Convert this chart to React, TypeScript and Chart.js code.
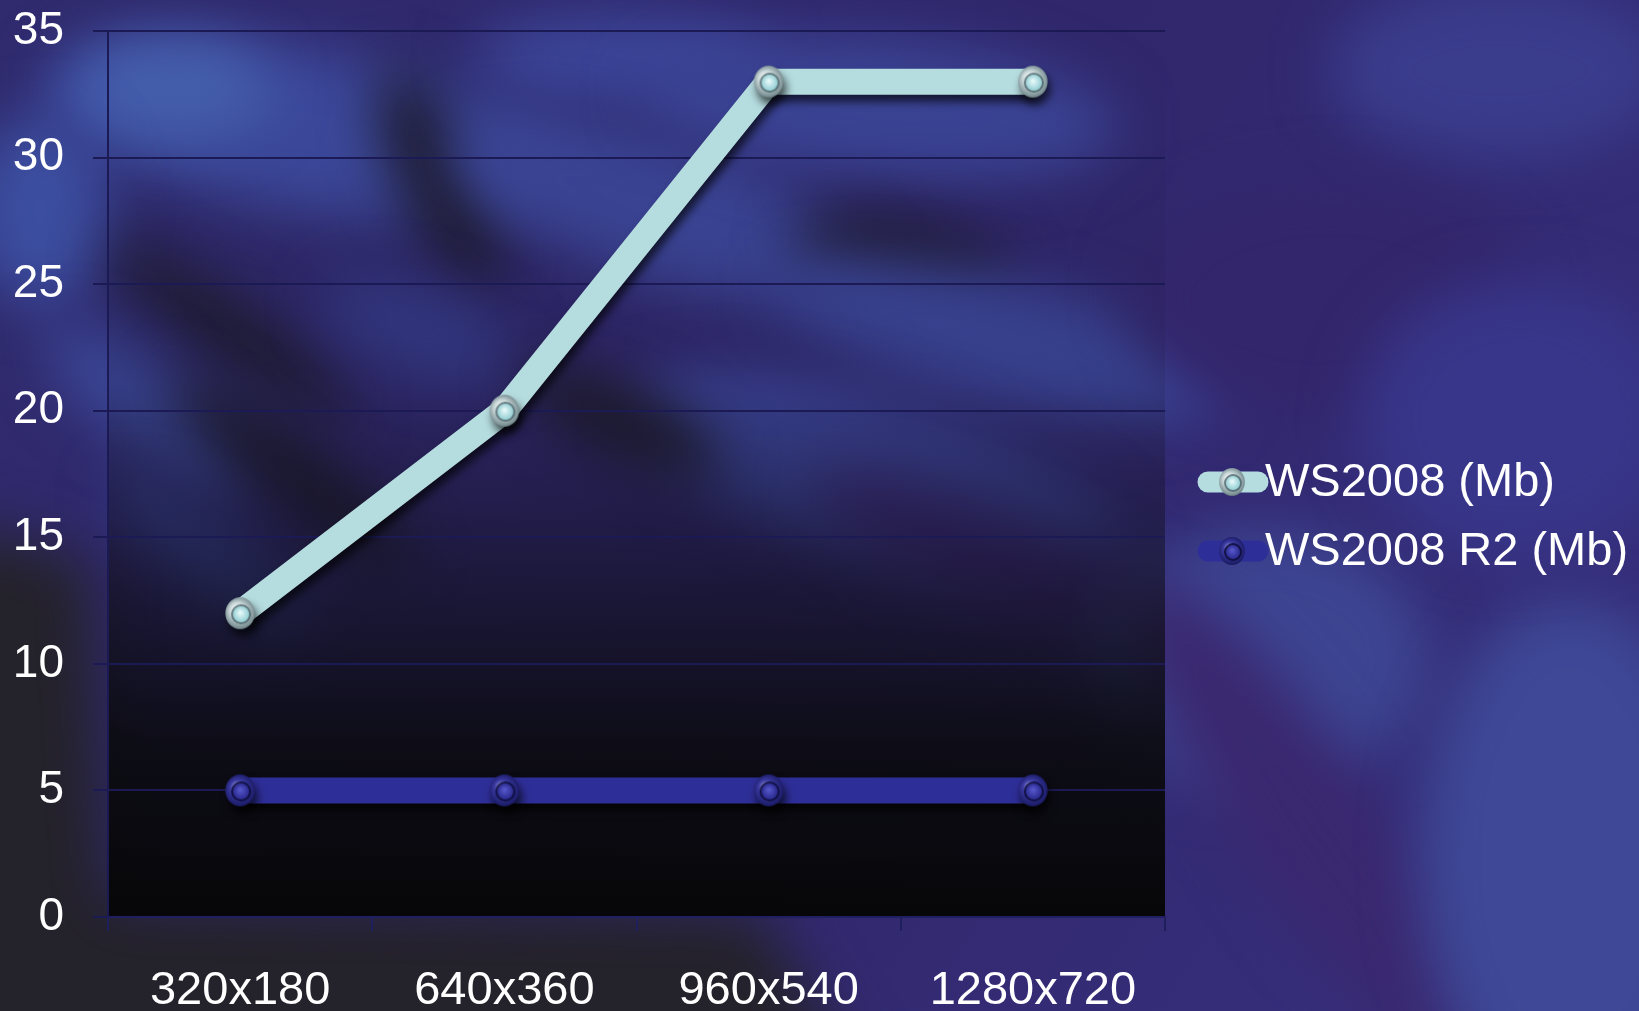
import React, { useEffect, useRef } from "react";
import { Chart, registerables } from "chart.js";

Chart.register(...registerables);

const categories = ["320x180", "640x360", "960x540", "1280x720"];
const ws2008Values = [12, 20, 33, 33];
const ws2008R2Values = [5, 5, 5, 5];
const seriesNames = ["WS2008 (Mb)", "WS2008 R2 (Mb)"];
const seriesColors = ["#b5dcdf", "#2e2e98"];
const yMin = 0;
const yMax = 35;
const yStep = 5;

const W = 1639;
const H = 1011;
const FONT = "'Liberation Sans', Arial, sans-serif";

// decorative background blobs: [cx, cy, rx, ry, angleDeg, color]
const bgBlobs: [number, number, number, number, number, string][] = [
  [300, 130, 260, 80, 10, "#3d4a9e"],
  [170, 90, 100, 50, 0, "#4560ae"],
  [40, 210, 70, 95, 0, "#3c4ea0"],
  [440, 180, 40, 120, -25, "#1e1b30"],
  [620, 60, 150, 45, 0, "#3c469a"],
  [660, 210, 220, 70, 18, "#3c4698"],
  [880, 110, 240, 70, 5, "#3b4496"],
  [900, 255, 110, 38, 10, "#201c34"],
  [1000, 340, 230, 60, 14, "#3b4698"],
  [230, 330, 150, 28, 35, "#1d1b2c"],
  [150, 410, 130, 40, 38, "#3b4898"],
  [290, 470, 150, 30, 38, "#1d1b2c"],
  [210, 560, 120, 32, 40, "#384496"],
  [420, 330, 100, 40, 20, "#343a88"],
  [880, 480, 260, 80, 18, "#3b4498"],
  [620, 420, 110, 35, 25, "#1e1b2c"],
  [1050, 590, 260, 55, 25, "#3a2a78"],
  [1500, 70, 170, 90, 0, "#3a3c8c"],
  [1330, 300, 200, 120, 0, "#33266c"],
  [1260, 660, 170, 130, 0, "#3d4592"],
  [1320, 840, 320, 70, 55, "#3a2870"],
  [1570, 860, 150, 260, 0, "#3e4896"],
  [1520, 420, 160, 140, 0, "#38368a"],
];

function makeMarker(kind: "light" | "dark", r: number): HTMLCanvasElement {
  const c = document.createElement("canvas");
  const s = Math.ceil(r * 2 + 4);
  c.width = s;
  c.height = s;
  const g = c.getContext("2d")!;
  const cx = s / 2;
  const cy = s / 2;
  const outer = g.createRadialGradient(cx - r * 0.3, cy - r * 0.35, 0, cx, cy, r * 1.1);
  if (kind === "light") {
    outer.addColorStop(0, "#f6fafa");
    outer.addColorStop(0.45, "#c6d4d6");
    outer.addColorStop(0.85, "#7f9498");
    outer.addColorStop(1, "#4e5d61");
  } else {
    outer.addColorStop(0, "#8a8ad0");
    outer.addColorStop(0.4, "#3a3aa2");
    outer.addColorStop(0.85, "#1f1f6e");
    outer.addColorStop(1, "#111146");
  }
  g.beginPath();
  g.ellipse(cx, cy, r * 0.92, r, 0, 0, Math.PI * 2);
  g.fillStyle = outer;
  g.fill();
  g.beginPath();
  g.arc(cx + 1, cy + 1, r * 0.55, 0, Math.PI * 2);
  g.lineWidth = 2.5;
  g.strokeStyle = kind === "light" ? "rgba(70,95,100,0.75)" : "rgba(12,12,55,0.85)";
  g.stroke();
  const inner = g.createRadialGradient(cx, cy - 1, 0, cx + 1, cy + 1, r * 0.55);
  if (kind === "light") {
    inner.addColorStop(0, "#eefcfd");
    inner.addColorStop(1, "#8ccbd0");
  } else {
    inner.addColorStop(0, "#5a5ad0");
    inner.addColorStop(1, "#26268a");
  }
  g.beginPath();
  g.arc(cx + 1, cy + 1, r * 0.5, 0, Math.PI * 2);
  g.fillStyle = inner;
  g.fill();
  return c;
}

export default function App() {
  const ref = useRef<HTMLCanvasElement | null>(null);

  useEffect(() => {
    document.body.style.margin = "0";
    const canvas = ref.current!;
    const markers = [makeMarker("light", 16), makeMarker("dark", 16)];
    const legendMarkers = [makeMarker("light", 14), makeMarker("dark", 14)];

    const backdrop = {
      id: "backdrop",
      beforeDraw(chart: any) {
        const { ctx, chartArea: a } = chart;
        ctx.save();
        const base = ctx.createLinearGradient(0, 0, W, H);
        base.addColorStop(0, "#302b6e");
        base.addColorStop(0.5, "#30276c");
        base.addColorStop(1, "#38307e");
        ctx.fillStyle = base;
        ctx.fillRect(0, 0, W, H);
        ctx.filter = "blur(28px)";
        for (const [cx, cy, rx, ry, ang, col] of bgBlobs) {
          ctx.beginPath();
          ctx.ellipse(cx, cy, rx, ry, (ang * Math.PI) / 180, 0, Math.PI * 2);
          ctx.fillStyle = col;
          ctx.fill();
        }
        ctx.filter = "blur(30px)";
        ctx.fillStyle = "#24222a";
        ctx.beginPath();
        ctx.moveTo(-60, 520);
        ctx.lineTo(90, 560);
        ctx.lineTo(110, 900);
        ctx.lineTo(760, 910);
        ctx.lineTo(860, 1080);
        ctx.lineTo(-60, 1080);
        ctx.closePath();
        ctx.fill();
        ctx.filter = "none";
        const gr = ctx.createLinearGradient(0, a.top, 0, a.bottom);
        gr.addColorStop(0, "rgba(14,12,22,0.0)");
        gr.addColorStop(0.4, "rgba(14,12,22,0.1)");
        gr.addColorStop(0.62, "rgba(12,11,18,0.55)");
        gr.addColorStop(0.8, "rgba(10,10,14,0.9)");
        gr.addColorStop(1, "rgba(7,7,9,1)");
        ctx.fillStyle = gr;
        ctx.fillRect(a.left, a.top, a.right - a.left, a.bottom - a.top);
        ctx.restore();
      },
    };

    const shadow = {
      id: "lineShadow",
      beforeDatasetDraw(chart: any) {
        const ctx = chart.ctx;
        ctx.save();
        ctx.shadowColor = "rgba(0,0,0,0.65)";
        ctx.shadowBlur = 8;
        ctx.shadowOffsetX = 3;
        ctx.shadowOffsetY = 7;
      },
      afterDatasetDraw(chart: any) {
        chart.ctx.restore();
      },
    };

    const legend = {
      id: "customLegend",
      afterDraw(chart: any) {
        const { ctx, chartArea: a } = chart;
        ctx.save();
        const x0 = a.right + 43;
        const y0 = (a.top + a.bottom) / 2 + 8;
        chart.data.datasets.forEach((ds: any, i: number) => {
          const y = y0 + i * 69;
          ctx.beginPath();
          ctx.moveTo(x0, y);
          ctx.lineTo(x0 + 50, y);
          ctx.lineWidth = 21;
          ctx.lineCap = "round";
          ctx.strokeStyle = ds.borderColor;
          ctx.stroke();
          const m = legendMarkers[i];
          ctx.drawImage(m, x0 + 24 - m.width / 2, y - m.height / 2);
          ctx.fillStyle = "#ffffff";
          ctx.font = `47px ${FONT}`;
          ctx.textBaseline = "middle";
          ctx.textAlign = "left";
          ctx.fillText(ds.label, a.right + 100, y + 1);
        });
        ctx.restore();
      },
    };

    const chart = new Chart(canvas, {
      type: "line",
      data: {
        labels: categories,
        datasets: [
          {
            label: seriesNames[0],
            data: ws2008Values,
            borderColor: seriesColors[0],
            backgroundColor: seriesColors[0],
            borderWidth: 26,
            pointStyle: markers[0] as any,
            pointRadius: 16,
            tension: 0,
            borderJoinStyle: "round",
          },
          {
            label: seriesNames[1],
            data: ws2008R2Values,
            borderColor: seriesColors[1],
            backgroundColor: seriesColors[1],
            borderWidth: 26,
            pointStyle: markers[1] as any,
            pointRadius: 16,
            tension: 0,
          },
        ],
      },
      options: {
        animation: false,
        responsive: false,
        devicePixelRatio: 1,
        layout: { autoPadding: false, padding: { top: 31, left: 0, right: W - 1165, bottom: 0 } },
        plugins: {
          legend: { display: false },
          tooltip: { enabled: false },
        },
        scales: {
          x: {
            offset: true,
            grid: {
              display: true,
              offset: true,
              drawOnChartArea: false,
              drawTicks: true,
              tickLength: 14,
              color: "#1f1f5e",
              lineWidth: 2,
            },
            border: { display: true, color: "#1f1f62", width: 2 },
            ticks: {
              color: "#ffffff",
              font: { family: FONT, size: 47 },
              padding: 32,
              maxRotation: 0,
              autoSkip: false,
            },
            afterFit(scale: any) {
              scale.height = H - 917;
              scale.paddingLeft = 0;
              scale.paddingRight = 0;
            },
          },
          y: {
            min: yMin,
            max: yMax,
            grid: {
              color: "#1b1a55",
              lineWidth: 2,
              drawTicks: true,
              tickLength: 15,
            },
            border: { display: true, color: "#1b1a55", width: 2 },
            ticks: {
              stepSize: yStep,
              color: "#ffffff",
              font: { family: FONT, size: 46 },
              padding: 29,
            },
            afterFit(scale: any) {
              scale.width = 108;
              scale.paddingTop = 0;
              scale.paddingBottom = 0;
            },
          },
        },
      },
      plugins: [backdrop, shadow, legend],
    });
    return () => chart.destroy();
  }, []);

  return (
    <div
      style={{
        position: "fixed",
        left: 0,
        top: 0,
        width: W,
        height: H,
        background: "#30286e",
        overflow: "hidden",
      }}
    >
      <canvas ref={ref} width={W} height={H} style={{ display: "block", width: W, height: H }} />
    </div>
  );
}
